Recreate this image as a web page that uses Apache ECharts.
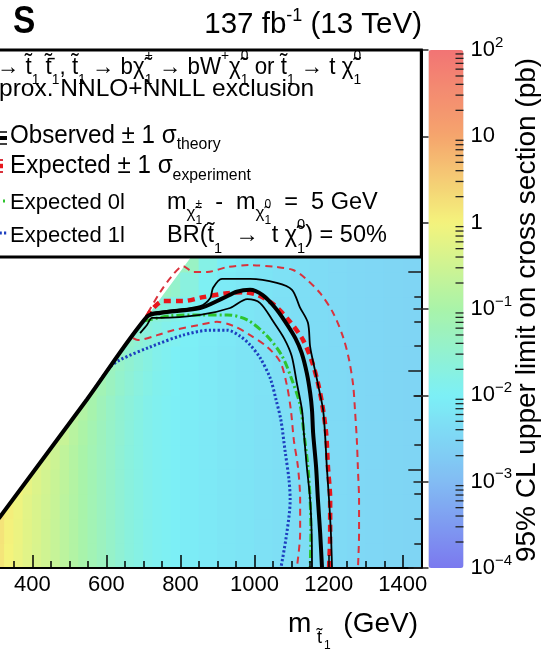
<!DOCTYPE html>
<html><head><meta charset="utf-8">
<script src="https://cdn.jsdelivr.net/npm/echarts@6/dist/echarts.min.js"></script>
<style>html,body{margin:0;padding:0;background:#fff}#c{width:550px;height:653px}</style>
</head><body><div id="c"></div>
<script>
// ---------------- data ----------------
// heat map bins (GeV): lower edges and widths in m(stop); y bins are 50 GeV
const xBinStarts = [300,325,350,375,400,425,450,475,500,525,550,575,600,625,650,675,700,725,750,775,
                    800,850,900,950,1000,1050,1100,1150,1200,1250,1300,1350,1400];
const xBinWidths = [25,25,25,25,25,25,25,25,25,25,25,25,25,25,25,25,25,25,25,25,
                    50,50,50,50,50,50,50,50,50,50,50,50,50];
const yBinStarts = [0,50,100,150,200,250,300,350,400,450,500,550,600];
const yBinWidth = 50;
// 95% CL upper limit on cross section (pb), one row per y bin
const N = null;
const limitRows = [
 [1.5,1.0,0.75,0.55,0.42,0.32,0.24,0.18,0.13,0.095,0.07,0.052,0.038,0.028,0.021,0.017,0.014,0.012,0.011,0.0095,0.0085,0.0074,0.0065,0.0058,0.0052,0.0047,0.0043,0.004,0.0037,0.0035,0.0033,0.0031,0.003],
 [1.6,1.05,0.78,0.56,0.43,0.32,0.24,0.18,0.13,0.095,0.07,0.052,0.038,0.028,0.021,0.017,0.014,0.012,0.011,0.0095,0.0085,0.0074,0.0065,0.0058,0.0052,0.0047,0.0043,0.004,0.0037,0.0035,0.0033,0.0031,0.003],
 [1.8,1.15,0.82,0.58,0.44,0.33,0.25,0.18,0.13,0.096,0.07,0.052,0.038,0.028,0.021,0.017,0.014,0.012,0.011,0.0095,0.0085,0.0074,0.0065,0.0058,0.0052,0.0047,0.0043,0.004,0.0037,0.0035,0.0033,0.0031,0.003],
 [N,1.5,1.0,0.68,0.48,0.35,0.26,0.19,0.135,0.097,0.071,0.052,0.038,0.028,0.021,0.017,0.014,0.012,0.011,0.0095,0.0085,0.0074,0.0065,0.0058,0.0052,0.0047,0.0043,0.004,0.0037,0.0035,0.0033,0.0031,0.003],
 [N,N,N,0.85,0.6,0.42,0.29,0.2,0.14,0.1,0.073,0.053,0.039,0.028,0.021,0.017,0.014,0.012,0.011,0.0095,0.0085,0.0074,0.0065,0.0058,0.0052,0.0047,0.0043,0.004,0.0037,0.0035,0.0033,0.0031,0.003],
 [N,N,N,N,N,0.5,0.36,0.25,0.16,0.11,0.077,0.055,0.04,0.029,0.022,0.017,0.014,0.012,0.011,0.0095,0.0085,0.0074,0.0065,0.0058,0.0052,0.0047,0.0043,0.004,0.0037,0.0035,0.0033,0.0031,0.003],
 [N,N,N,N,N,N,N,0.28,0.19,0.13,0.088,0.06,0.042,0.03,0.023,0.018,0.0145,0.0123,0.011,0.0096,0.0086,0.0075,0.0066,0.0058,0.0052,0.0047,0.0043,0.004,0.0037,0.0035,0.0033,0.0031,0.003],
 [N,N,N,N,N,N,N,N,N,0.15,0.1,0.07,0.05,0.035,0.026,0.02,0.016,0.013,0.0115,0.0098,0.0088,0.0076,0.0067,0.0059,0.0053,0.0048,0.0043,0.004,0.0037,0.0035,0.0033,0.0031,0.003],
 [N,N,N,N,N,N,N,N,N,N,N,0.08,0.055,0.04,0.03,0.023,0.018,0.014,0.012,0.01,0.009,0.0078,0.0068,0.006,0.0054,0.0048,0.0044,0.004,0.0037,0.0035,0.0033,0.0031,0.003],
 [N,N,N,N,N,N,N,N,N,N,N,N,N,0.05,0.036,0.027,0.021,0.017,0.014,0.012,0.0095,0.008,0.007,0.0061,0.0055,0.0049,0.0044,0.0041,0.0038,0.0035,0.0033,0.0031,0.003],
 [N,N,N,N,N,N,N,N,N,N,N,N,N,N,N,0.045,0.032,0.024,0.019,0.015,0.011,0.0085,0.0072,0.0063,0.0056,0.005,0.0045,0.0041,0.0038,0.0035,0.0033,0.0031,0.003],
 [N,N,N,N,N,N,N,N,N,N,N,N,N,N,N,N,N,0.06,0.045,0.035,0.02,0.011,0.0078,0.0066,0.0058,0.0051,0.0046,0.0042,0.0038,0.0035,0.0033,0.0031,0.003],
 [N,N,N,N,N,N,N,N,N,N,N,N,N,N,N,N,N,N,N,0.07,0.045,0.016,0.009,0.0072,0.006,0.0052,0.0047,0.0042,0.0038,0.0035,0.0033,0.0031,0.003]
];
// kinematic boundary (upper-left edge of the scanned region)
const kinStop = [250,313,547,709,818,900];
const kinLsp  = [42,104,341,509,620,702];
// observed exclusion contour and +-1 sigma(theory)
const obsStop   = [280,313,547,709,745,853,915,952,988,1022,1055,1082,1110,1127,1141,1150,1155,1158,1166,1171,1177,1182];
const obsLsp    = [71,104,341,509,517,527,547,560,564,553,528,500,466,436,395,355,320,274,205,138,71,0];
const obsUpStop = [718,785,853,880,888,912,988,1060,1101,1122,1144,1150,1163,1176,1185,1190,1195,1201,1206,1209];
const obsUpLsp  = [517,523,531,547,568,586,586,578,564,529,497,448,401,355,320,274,205,138,71,0];
const obsDnStop = [691,710,723,745,853,934,980,1015,1050,1080,1100,1114,1128,1133,1141,1150,1154,1155];
const obsDnLsp  = [476,493,507,507,513,527,545,537,500,465,430,375,320,274,205,138,71,0];
// expected contour and +-1 sigma(experiment)
const expStop   = [709,722,753,807,861,926,969,1009,1050,1096,1131,1155,1171,1182,1193,1198,1204,1204,1201];
const expLsp    = [509,523,541,541,549,557,559,553,535,499,462,418,375,334,274,205,138,71,0];
const expUpStop = [712,745,777,807,834,872,926,988,1060,1104,1136,1177,1212,1239,1255,1266,1271,1276,1279,1282,1282,1279];
const expUpLsp  = [517,559,592,612,600,600,610,614,610,604,588,557,517,468,422,371,320,259,199,138,71,0];
const expDnStop = [672,685,737,780,853,898,942,988,1034,1069,1087,1098,1106,1117,1123,1123,1114];
const expDnLsp  = [466,462,472,482,493,499,491,472,448,418,371,320,259,205,138,71,0];
// expected 0l and 1l
const exp0Stop = [704,772,853,926,980,1034,1074,1101,1123,1133,1144,1150,1152,1150];
const exp0Lsp  = [501,511,513,513,503,470,430,381,330,274,205,138,71,0];
const exp1Stop = [542,575,610,637,718,807,880,926,961,988,1015,1042,1058,1071,1082,1093,1096,1087,1071];
const exp1Lsp  = [336,371,407,422,448,472,482,482,470,452,426,385,341,300,239,178,138,71,0];
// colour bar
const cbarExponents = [-4,-3,-2,-1,0,1,2];
const cbarLabels = ['10{s|−4}','10{s|−3}','10{s|−2}','10{s|−1}','1','10','10{s|2}'];
const cbarMinorMult = [2,3,4,5,6,7,8,9];
const paletteColors = ['#7b79ef','#82bcf3','#7cf0f6','#a9f3a9','#f4f37c','#f5a56d','#f27474'];

// ---------------- build ----------------
const FONT = '"Liberation Sans", Arial, Helvetica, sans-serif';
const heatData = [];
yBinStarts.forEach((y0, r) => xBinStarts.forEach((x0, c) => {
  const v = limitRows[r][c];
  if (v != null) heatData.push([x0, y0, Math.log10(v), xBinWidths[c]]);
}));
const zip = (a, b) => a.map((v, i) => [v, b[i]]);
const minorVals = [];
cbarExponents.slice(0, -1).forEach(e => cbarMinorMult.forEach(m => minorVals.push([1, m * Math.pow(10, e)])));

const chart = echarts.init(document.getElementById('c'), null, {renderer: 'canvas', width: 550, height: 653});

function lineSeries(name, xs, ys, style, z) {
  return {name, type: 'line', xAxisIndex: 0, yAxisIndex: 0, data: zip(xs, ys), symbol: 'none',
    showSymbol: false, smooth: 0.3, lineStyle: style, z, silent: true, animation: false, clip: true};
}
const H = 40;
function off(d, fs, extra) {
  return Object.assign({fontSize: fs, fontFamily: FONT, fill: '#000', verticalAlign: 'top', height: 10,
    padding: [H / 2 - 5 + d, 0, 0, 0]}, extra || {});
}
function txt(x, y, text, fs, opts) {
  opts = opts || {};
  return {type: 'text', x, y, z: 60, scaleX: opts.sx || 1, scaleY: opts.sy || 1, rotation: opts.rot || 0,
    style: {text, fontSize: fs, fontFamily: FONT, fontWeight: opts.bold ? 'bold' : 'normal', fill: '#000',
      align: opts.align || 'left', verticalAlign: 'middle', lineHeight: H, rich: opts.rich || {}}};
}
function seg(x1, y1, x2, y2, stroke, w, dash) {
  return {type: 'line', z: 60, shape: {x1, y1, x2, y2}, style: {stroke, lineWidth: w, lineDash: dash || null}};
}
const richA = (fs) => ({
  a: off(13, fs * 0.62), b: off(13, fs * 0.62, {width: 0}), c: off(-11, fs * 0.62)
});

const option = {
  backgroundColor: '#fff',
  animation: false,
  grid: [
    {left: -41.8, top: 50, width: 463.1, height: 518, show: false, containLabel: false, outerBoundsMode: 'none'},
    {left: 428.5, top: 50, width: 35, height: 518, show: false, containLabel: false, outerBoundsMode: 'none'}
  ],
  xAxis: [
    {gridIndex: 0, type: 'value', min: 200, max: 1450, interval: 200, position: 'bottom', z: 10,
      axisLine: {show: true, onZero: false, lineStyle: {color: '#000', width: 2}},
      axisTick: {show: true, inside: true, length: 13, lineStyle: {color: '#000', width: 1.5}},
      axisLabel: {show: true, fontSize: 22, color: '#000', fontFamily: FONT, margin: 6, showMaxLabel: false,
        formatter: (v) => String(v)},
      splitLine: {show: false}},
    {gridIndex: 0, type: 'value', min: 200, max: 1450, interval: 50, position: 'bottom', z: 10,
      axisLine: {show: false, onZero: false},
      axisTick: {show: true, inside: true, length: 7, lineStyle: {color: '#000', width: 1.5}},
      axisLabel: {show: false}, splitLine: {show: false}},
    {gridIndex: 1, type: 'value', min: 0, max: 1, show: false}
  ],
  yAxis: [
    {gridIndex: 0, type: 'value', min: 0, max: 1050, interval: 200, position: 'right', z: 10,
      axisLine: {show: true, onZero: false, lineStyle: {color: '#000', width: 2}},
      axisTick: {show: true, inside: true, length: 13, lineStyle: {color: '#1a1a1a', width: 1.5}},
      axisLabel: {show: false}, splitLine: {show: false}},
    {gridIndex: 0, type: 'value', min: 0, max: 1050, interval: 50, position: 'right', z: 10,
      axisLine: {show: false, onZero: false},
      axisTick: {show: true, inside: true, length: 7, lineStyle: {color: '#1a1a1a', width: 1.5}},
      axisLabel: {show: false}, splitLine: {show: false}},
    {gridIndex: 1, type: 'log', logBase: 10, min: 1e-4, max: 100, position: 'right', z: 10,
      axisLine: {show: false},
      axisTick: {show: true, inside: true, length: 15, lineStyle: {color: '#222', width: 1.5}},
      axisLabel: {show: true, margin: 7, fontSize: 22, color: '#000', fontFamily: FONT, lineHeight: 30,
        formatter: (v) => cbarLabels[Math.round(Math.log10(v)) + 4],
        rich: {s: {fontSize: 15, fontFamily: FONT, color: '#000', verticalAlign: 'top', lineHeight: 14}}},
      splitLine: {show: false}}
  ],
  visualMap: {
    type: 'continuous', min: -4, max: 2, dimension: 2, seriesIndex: 0, calculable: false,
    orient: 'vertical', left: 428.5, top: 50, itemWidth: 35, itemHeight: 518, padding: 0,
    text: null, showLabel: false, hoverLink: false, realtime: false,
    inRange: {color: paletteColors}
  },
  series: [
    {type: 'custom', xAxisIndex: 0, yAxisIndex: 0, data: heatData, z: 2, silent: true, clip: true,
      encode: {x: 0, y: 1},
      renderItem: (params, api) => {
        const x0 = api.value(0), y0 = api.value(1), w = api.value(3);
        const p0 = api.coord([x0, y0 + yBinWidth]);
        const p1 = api.coord([x0 + w, y0]);
        return {type: 'rect', shape: {x: p0[0] - 0.4, y: p0[1] - 0.4, width: p1[0] - p0[0] + 0.8, height: p1[1] - p0[1] + 0.8},
          style: {fill: api.visual('color')}};
      }},
    {type: 'custom', xAxisIndex: 0, yAxisIndex: 0, data: [[kinStop[0], kinLsp[0]]], z: 3, silent: true,
      renderItem: (params, api) => {
        const pts = kinStop.map((m, i) => api.coord([m, kinLsp[i]]));
        const tl = api.coord([200, 1050]);
        const last = pts[pts.length - 1];
        pts.push([last[0], tl[1]]);
        pts.push([tl[0] - 5, tl[1]]);
        pts.push([tl[0] - 5, pts[0][1]]);
        return {type: 'polygon', shape: {points: pts}, style: {fill: '#fff'}};
      }},
    lineSeries('Expected 1l', exp1Stop, exp1Lsp, {color: '#1d3fbf', width: 3, type: [2.2, 2.2]}, 4),
    lineSeries('Expected 0l', exp0Stop, exp0Lsp, {color: '#2ec42e', width: 3, type: [8, 3, 2, 3]}, 5),
    lineSeries('Expected -1s', expDnStop, expDnLsp, {color: '#d9323c', width: 2, type: [7, 5]}, 6),
    lineSeries('Expected +1s', expUpStop, expUpLsp, {color: '#d9323c', width: 2, type: [7, 5]}, 6),
    lineSeries('Expected', expStop, expLsp, {color: '#e8161c', width: 4.5, type: [7, 5]}, 7),
    lineSeries('Observed -1s', obsDnStop, obsDnLsp, {color: '#000', width: 1.8}, 8),
    lineSeries('Observed +1s', obsUpStop, obsUpLsp, {color: '#000', width: 1.8}, 8),
    lineSeries('Observed', obsStop, obsLsp, {color: '#000', width: 4}, 9),
    {type: 'custom', xAxisIndex: 2, yAxisIndex: 2, data: minorVals, z: 10, silent: true,
      renderItem: (params, api) => {
        const p = api.coord([1, api.value(1)]);
        return {type: 'line', shape: {x1: p[0] - 8, y1: p[1], x2: p[0], y2: p[1]}, style: {stroke: '#222', lineWidth: 1.3}};
      }}
  ],
  graphic: [
    {type: 'rect', z: 50, shape: {x: -20, y: 50, width: 441.3, height: 207}, style: {fill: '#fff', stroke: '#000', lineWidth: 3}},
    txt(0, 23, 'CM', 38, {align: 'right', bold: true, sx: 0.88}),
    txt(13, 23, 'S', 38, {bold: true, sx: 0.88}),
    txt(422, 25, '137 fb{p|-1} (13 TeV)', 29.5, {align: 'right', rich: {p: off(-9, 18)}}),
    txt(-8, 67, 'pp', 24, {align: 'right'}),
    txt(-3, 67, '→ t\u0303{a|1} t\u0303\u0304{a|1}, t\u0303{a|1} → bχ\u0303{b|1}{c|+} → bW{c|+}χ\u0303{b|1}{c|0} or t\u0303{a|1} → t χ\u0303{b|1}{c|0}', 24, {rich: richA(24), sx: 0.93}),
    txt(-1, 89, 'Ap', 24.5, {align: 'right'}),
    txt(-1, 89, 'prox. NNLO+NNLL exclusion', 24.5),
    txt(10, 136, 'Observed ± 1 σ{t|theory}', 26, {rich: {t: off(8, 17)}, sx: 0.93}),
    txt(10, 166, 'Expected ± 1 σ{t|experiment}', 26, {rich: {t: off(9, 17)}, sx: 0.93}),
    txt(10, 203, 'Expected 0l', 22),
    txt(10, 236, 'Expected 1l', 22),
    txt(167, 203, 'm{x|χ\u0303}{y|1}{z|±}  -  m{x|χ\u0303}{y|1}{z|0}  =  5 GeV', 23.5,
      {rich: {x: off(10, 17), y: off(18, 12, {width: 0}), z: off(2, 12)}}),
    txt(167, 236, 'BR(t\u0303{a|1}  →  t χ\u0303{b|1}{c|0}) = 50%', 23.5, {rich: richA(23.5)}),
    seg(-40, 132, 7, 132, '#000', 1.5), seg(-40, 138, 7, 138, '#000', 4), seg(-40, 144, 7, 144, '#000', 1.5),
    seg(-40, 160, 6, 160, '#d9323c', 2, [7, 5]), seg(-40, 166, 6, 166, '#e8161c', 4.5, [7, 5]), seg(-40, 172, 6, 172, '#d9323c', 2, [7, 5]),
    seg(-40, 201, 7, 201, '#2ec42e', 3, [8, 3, 2, 3]),
    seg(-40, 233, 7, 233, '#1d3fbf', 3, [2.2, 2.2]),
    txt(288, 624, 'm', 28),
    txt(317, 638, 't\u0303', 18),
    txt(324, 646, '1', 12),
    txt(418, 624, '(GeV)', 28, {align: 'right'}),
    txt(527, 310, '95% CL upper limit on cross section (pb)', 28, {align: 'center', rot: Math.PI / 2})
  ]
};
chart.setOption(option);
</script></body></html>
